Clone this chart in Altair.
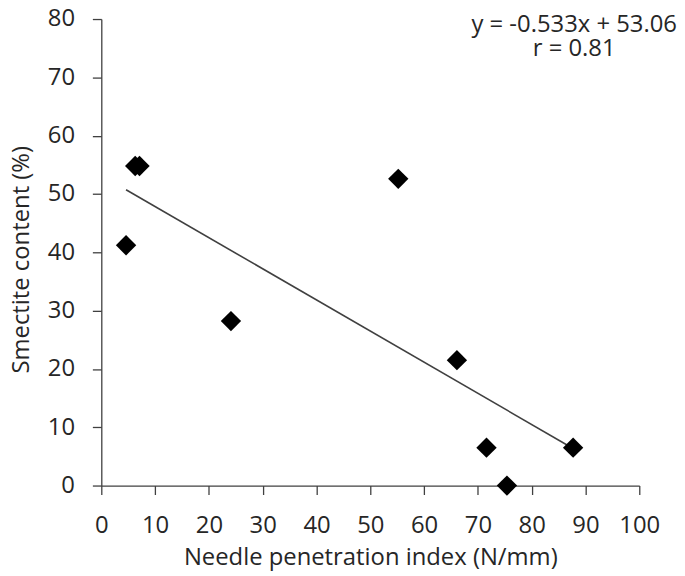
import altair as alt
import pandas as pd

# Data
x_vals = [4.6, 6.3, 7.1, 24.1, 55.2, 66.1, 71.6, 75.4, 87.7]
y_vals = [41.2, 54.8, 54.8, 28.2, 52.6, 21.5, 6.5, 0.0, 6.5]
x_ticks = [0, 10, 20, 30, 40, 50, 60, 70, 80, 90, 100]
y_ticks = [0, 10, 20, 30, 40, 50, 60, 70, 80]
annot_text = ["y = -0.533x + 53.06", "r = 0.81"]
annot_x = [87.9, 87.9]
annot_y = [77.7, 73.7]

df = pd.DataFrame({"x": x_vals, "y": y_vals})
ann = pd.DataFrame({"t": annot_text, "x": annot_x, "y": annot_y})

FONT = "Open Sans"
TXT = "#262626"
AX = "#404040"

xscale = alt.Scale(domain=[0, 100], nice=False, zero=False)
yscale = alt.Scale(domain=[0, 80], nice=False, zero=False)

xaxis = alt.Axis(
    values=x_ticks, title="Needle penetration index (N/mm)", grid=False,
    tickSize=9, labelPadding=38, labelBaseline="alphabetic", labelFlush=False,
    labelOverlap=False, titleBaseline="alphabetic", titleY=80,
    labelFont=FONT, titleFont=FONT, labelFontSize=24, titleFontSize=24,
    labelColor=TXT, titleColor=TXT, titleFontWeight="normal",
    domainColor=AX, tickColor=AX, domainWidth=1.3, tickWidth=1.3,
)
yaxis = alt.Axis(
    values=y_ticks, title="Smectite content (%)", grid=False,
    tickSize=9, labelPadding=18, labelBaseline="middle", labelFlush=False,
    labelOverlap=False, titleAngle=-90, titleX=-80, titleY=242,
    titleBaseline="middle", titleAlign="center",
    labelFont=FONT, titleFont=FONT, labelFontSize=24, titleFontSize=24,
    labelColor=TXT, titleColor=TXT, titleFontWeight="normal",
    domainColor=AX, tickColor=AX, domainWidth=1.3, tickWidth=1.3,
)

X = alt.X("x:Q", scale=xscale, axis=xaxis)
Y = alt.Y("y:Q", scale=yscale, axis=yaxis)

points = alt.Chart(df).mark_point(
    shape="diamond", filled=True, size=420, color="black", opacity=1
).encode(x=X, y=Y)

trend = alt.Chart(df).transform_regression("x", "y").mark_line(
    color=AX, strokeWidth=1.6
).encode(x=X, y=Y)

labels = alt.Chart(ann).mark_text(
    align="center", baseline="alphabetic", fontSize=24, font=FONT, color=TXT
).encode(x=X, y=Y, text="t:N")

chart = alt.layer(trend, points, labels).properties(
    width=542, height=470,
    padding={"left": 94, "top": 9, "right": 38, "bottom": 88},
    autosize=alt.AutoSizeParams(type="none"),
    background="white",
).configure_view(stroke="transparent")

chart.save("out.html", embed_options={"renderer": "svg", "actions": False})
